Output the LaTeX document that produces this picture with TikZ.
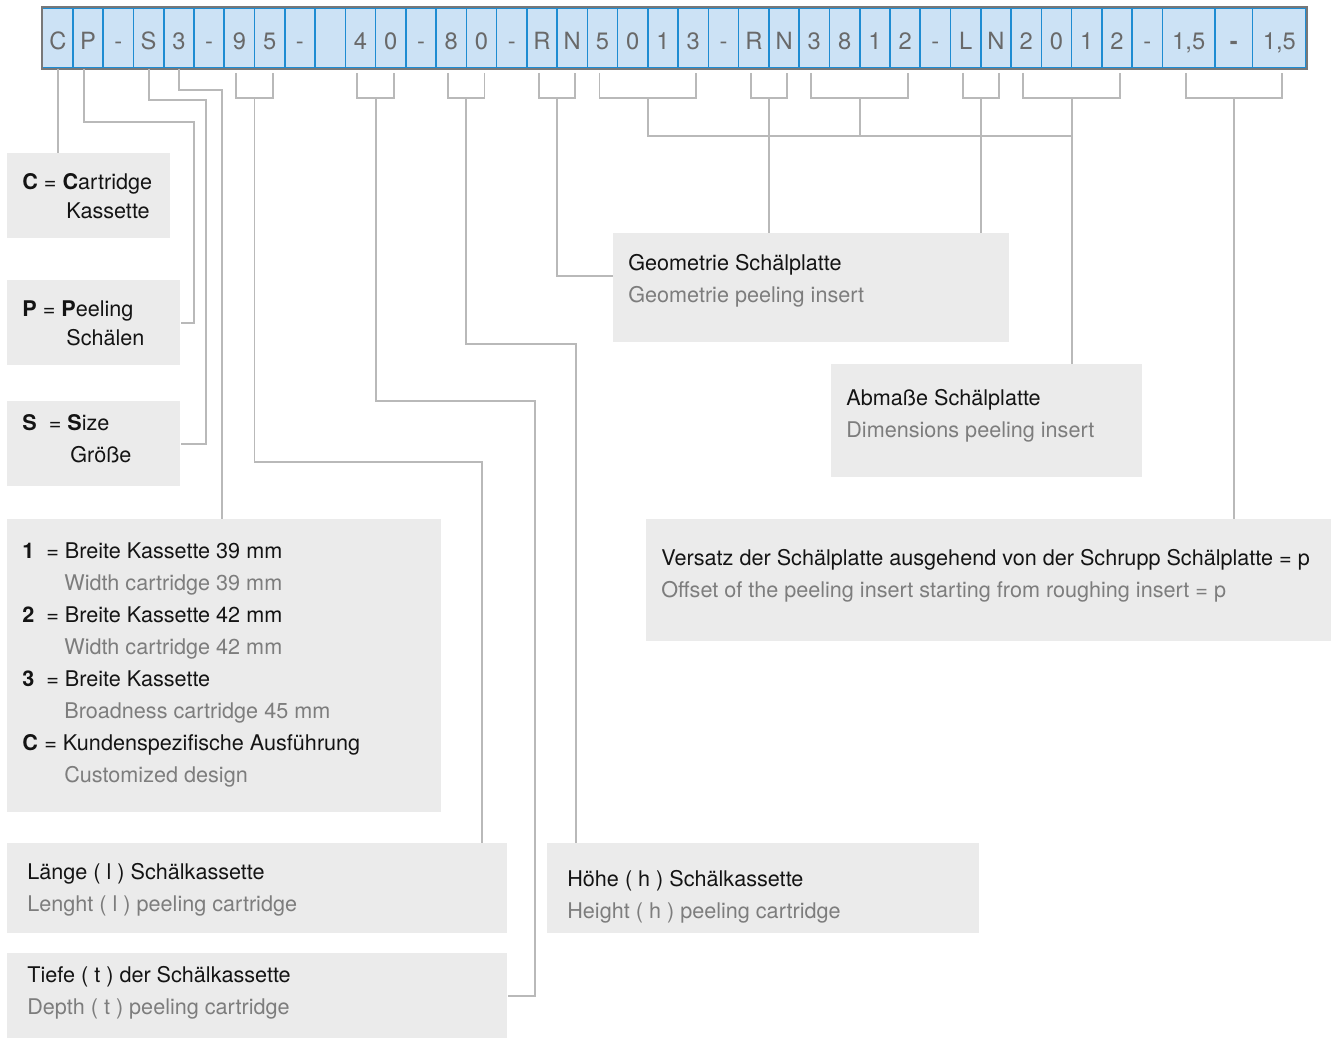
\documentclass[tikz,border=0pt]{standalone}
\usepackage{fontspec}
\setmainfont{TeX Gyre Heros}
\usepackage{tikz}
\usetikzlibrary{positioning,calc}
\definecolor{cellfill}{RGB}{204,226,245}
\definecolor{cellline}{RGB}{30,140,210}
\definecolor{framegray}{RGB}{120,120,120}
\definecolor{linkgray}{RGB}{185,185,185}
\definecolor{boxfill}{RGB}{235,235,235}
\definecolor{subgray}{RGB}{125,125,125}
\definecolor{codegray}{RGB}{105,105,105}
\definecolor{maintext}{RGB}{20,20,20}

\begin{document}
\begin{tikzpicture}[x=0.02cm,y=-0.02cm,
  font=\fontsize{12.3}{15}\selectfont,
  cell/.style={rectangle,draw=cellline,line width=0.9pt,fill=cellfill,text=codegray,minimum width=0.6052cm,minimum height=1.2cm,inner sep=0pt,text height=13.1pt,text depth=0pt,font=\fontsize{13.5}{16}\selectfont},
  frame/.style={draw=framegray,line width=1.4pt},
  infobox/.style={rectangle,fill=boxfill,anchor=north west,inner sep=0pt},
  detext/.style={anchor=mid west,inner sep=0pt,text=maintext,yshift=-0.08cm},
  entext/.style={anchor=mid west,inner sep=0pt,text=subgray,yshift=-0.08cm},
  link/.style={draw=linkgray,line width=1.1pt}
]
\useasboundingbox (0,0) rectangle (1338,1039);

\foreach \t [count=\i from 0] in {C,P,-,S,3,-,9,5,-,{},4,0,-,8,0,-,R,N,5,0,1,3,-,R,N,3,8,1,2,-,L,N,2,0,1,2,-}
  \node[cell] (c\i) at ({57.83+30.26*\i},38) {\t};
\node[cell,minimum width=1.054cm] (c37) at (1188.7,38) {1,5};
\node[cell,minimum width=0.754cm] (c38) at (1233.9,38) {\textbf{-}};
\node[cell,minimum width=1.066cm] (c39) at (1279.3,38) {1,5};
\draw[frame] (c0.north west) rectangle (c39.south east);

\node[infobox,minimum width=3.26cm,minimum height=1.7cm] (boxC) at (7,153) {};
\node[infobox,minimum width=3.46cm,minimum height=1.7cm] (boxP) at (7,280) {};
\node[infobox,minimum width=3.46cm,minimum height=1.7cm] (boxS) at (7,401) {};
\node[infobox,minimum width=8.68cm,minimum height=5.86cm] (boxW) at (7,519) {};
\node[infobox,minimum width=10cm,minimum height=1.8cm] (boxL) at (7,843) {};
\node[infobox,minimum width=10cm,minimum height=1.7cm] (boxT) at (7,953) {};
\node[infobox,minimum width=8.64cm,minimum height=1.8cm] (boxH) at (547,843) {};
\node[infobox,minimum width=7.92cm,minimum height=2.18cm] (boxG) at (613,233) {};
\node[infobox,minimum width=6.22cm,minimum height=2.26cm] (boxA) at (831,364) {};
\node[infobox,minimum width=13.7cm,minimum height=2.44cm] (boxV) at (646,519) {};

\node[detext] (cDe) at (22,181) {\textbf{C} = \textbf{C}artridge};
\node[detext] (cEn) at (66,210) {Kassette};
\node[detext] (pDe) at (22,308) {\textbf{P} = \textbf{P}eeling};
\node[detext] (pEn) at (66,337) {Schälen};
\node[detext] (sDe) at (22,422) {\textbf{S}\ \ = \textbf{S}ize};
\node[detext] (sEn) at (70,454) {Größe};

\node[detext] (w1) at (22,550) {\textbf{1}};
\node[detext] (w1De) at (46,550) {= Breite Kassette 39 mm};
\node[entext] (w1En) at (64,582) {Width cartridge 39 mm};
\node[detext] (w2) at (22,614) {\textbf{2}};
\node[detext] (w2De) at (46,614) {= Breite Kassette 42 mm};
\node[entext] (w2En) at (64,646) {Width cartridge 42 mm};
\node[detext] (w3) at (22,678) {\textbf{3}};
\node[detext] (w3De) at (46,678) {= Breite Kassette};
\node[entext] (w3En) at (64,710) {Broadness cartridge 45 mm};
\node[detext] (wC) at (22,742) {\textbf{C}};
\node[detext] (wCDe) at (44,742) {= Kundenspezifische Ausführung};
\node[entext] (wCEn) at (64,774) {Customized design};

\node[detext] (gDe) at (628,262) {Geometrie Schälplatte};
\node[entext] (gEn) at (628,294) {Geometrie peeling insert};
\node[detext] (aDe) at (846,397) {Abmaße Schälplatte};
\node[entext] (aEn) at (846,429) {Dimensions peeling insert};
\node[detext] (vDe) at (661,557) {Versatz der Schälplatte ausgehend von der Schrupp Schälplatte = p};
\node[entext] (vEn) at (661,589) {Offset of the peeling insert starting from roughing insert = p};
\node[detext] (lDe) at (27,871) {Länge ( l ) Schälkassette};
\node[entext] (lEn) at (27,903) {Lenght ( l ) peeling cartridge};
\node[detext] (tDe) at (27,974) {Tiefe ( t ) der Schälkassette};
\node[entext] (tEn) at (27,1006) {Depth ( t ) peeling cartridge};
\node[detext] (hDe) at (567,878) {Höhe ( h ) Schälkassette};
\node[entext] (hEn) at (567,910) {Height ( h ) peeling cartridge};

\foreach \a/\b/\n in {6/7/b95,10/11/b40,13/14/b80,16/17/bRN,18/21/b5013,23/24/bRNb,25/28/b3812,30/31/bLN,32/35/b2012,37/39/bOff}{
  \coordinate (\n) at ($([yshift=-0.58cm]c\a.south)!.5!([yshift=-0.58cm]c\b.south)$);
  \draw[link] ([xshift=-0.06cm,yshift=-0.08cm]c\a.south) |- (\n) -| ([xshift=0.06cm,yshift=-0.08cm]c\b.south);
}

\draw[link] (c0.south) -- (c0.south |- boxC.north);
\draw[link] ([xshift=-0.08cm]c1.south) |- (194,122) |- (boxP.east);
\draw[link] (c3.south) |- (206,100) |- (boxS.east);
\draw[link] (c4.south) |- (222,90) -- (222,0 |- boxW.north);
\draw[link] (b95) |- (482,462) -- (482,0 |- boxL.north);
\draw[link] (b40) |- (535,401) |- (boxT.east);
\draw[link] (b80) |- (576,344) -- (576,0 |- boxH.north);
\draw[link] (bRN) |- (boxG.west |- 0,276);
\draw[link] (b5013) |- (b2012 |- 0,136);
\draw[link] (b3812) -- (b3812 |- 0,136);
\draw[link] (b2012) -- (b2012 |- boxA.north);
\draw[link] (bRNb) -- (bRNb |- boxG.north);
\draw[link] (bLN) -- (bLN |- boxG.north);
\draw[link] (bOff) -- (bOff |- boxV.north);
\end{tikzpicture}
\end{document}
